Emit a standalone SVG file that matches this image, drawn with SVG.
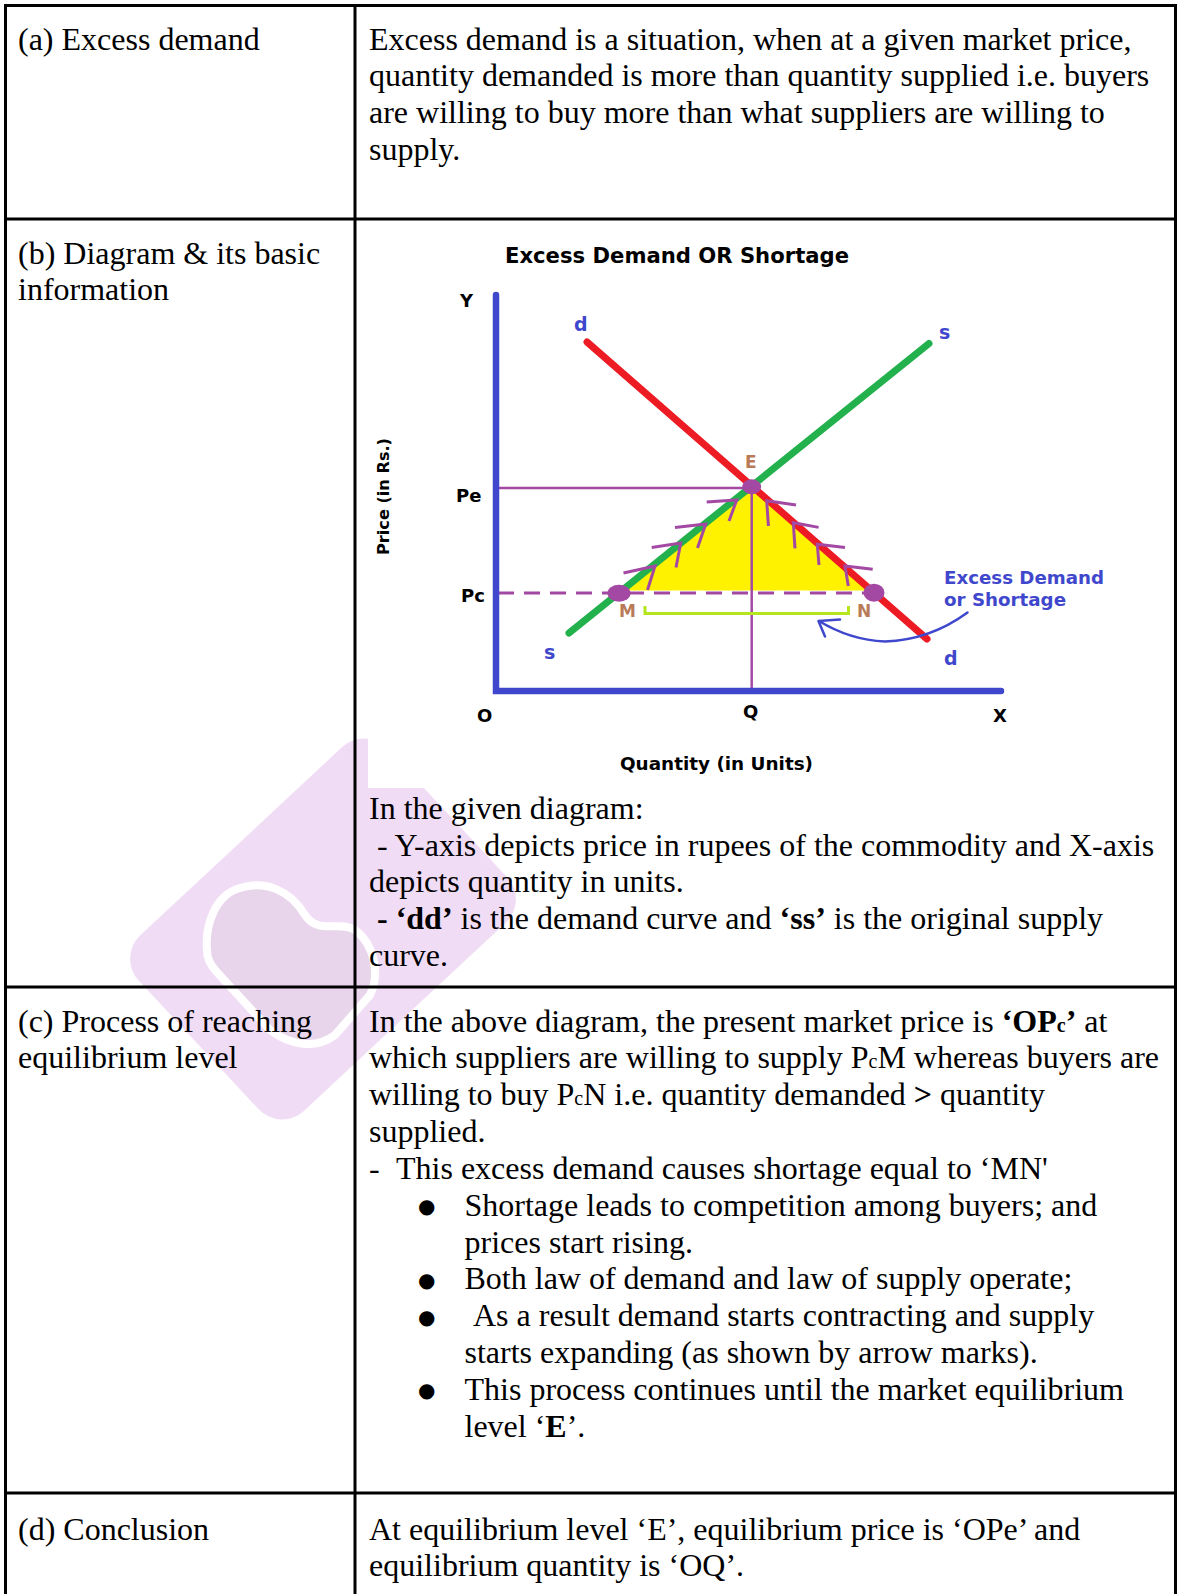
<svg xmlns="http://www.w3.org/2000/svg" width="1180" height="1594" viewBox="0 0 1180 1594">
<style>
.t{font-family:"Liberation Serif","Times New Roman",serif;font-size:32px;fill:#000}
.b{font-weight:bold}
.sm{font-size:20px}
.bul{font-family:"DejaVu Sans","Liberation Sans",sans-serif;font-size:20px;fill:#000}
.c{font-family:"DejaVu Sans",Verdana,sans-serif;font-weight:bold}
.lbl{font-size:18px;fill:#000}
.blue{fill:#3F48CC}
.tan{fill:#B97A57;font-size:17px}
.grid{stroke:#000;stroke-width:3;fill:none}
.pur{stroke:#A349A4;fill:none;stroke-width:2.5}
.mark{stroke:#A349A4;fill:none;stroke-width:3;stroke-linejoin:miter}
.dot{fill:#A349A4}
</style>
<rect width="1180" height="1594" fill="#fff"/>

<g id="watermark">
  <rect x="-170" y="-120" width="340" height="240" rx="32" fill="#F1DCF5" transform="translate(323 929) rotate(-43)"/>
  <path d="M207,950 C205,925 215,895 240,888 C265,880 290,890 305,915 C318,935 340,920 355,930 C375,945 380,975 370,995 L335,1035 C315,1050 290,1045 270,1030 L215,970 C208,962 207,956 207,950 Z" fill="#E8D5EC" stroke="#FFFFFF" stroke-width="8" stroke-linejoin="round"/>
</g>

<rect id="chart-bg" x="368" y="222" width="800" height="566" fill="#fff"/>

<g id="table-grid" class="grid">
  <line x1="4" y1="5.5" x2="1177" y2="5.5"/>
  <line x1="5.5" y1="4" x2="5.5" y2="1600"/>
  <line x1="1175.5" y1="4" x2="1175.5" y2="1600"/>
  <line x1="355" y1="4" x2="355" y2="1600"/>
  <line x1="4" y1="219" x2="1177" y2="219"/>
  <line x1="4" y1="987" x2="1177" y2="987"/>
  <line x1="4" y1="1493" x2="1177" y2="1493"/>
</g>

<g id="row-a">
  <text class="t" x="18" y="49.5">(a) Excess demand</text>
  <text class="t" x="369" y="49.5">Excess demand is a situation, when at a given market price,</text>
  <text class="t" x="369" y="86.4">quantity demanded is more than quantity supplied i.e. buyers</text>
  <text class="t" x="369" y="123.2">are willing to buy more than what suppliers are willing to</text>
  <text class="t" x="369" y="160">supply.</text>
</g>

<g id="row-b">
  <text class="t" x="18" y="264">(b) Diagram &amp; its basic</text>
  <text class="t" x="18" y="300">information</text>
  <text class="t" x="369" y="819">In the given diagram:</text>
  <text class="t" x="377" y="855.5">- Y-axis depicts price in rupees of the commodity and X-axis</text>
  <text class="t" x="369" y="892.3">depicts quantity in units.</text>
  <text class="t" x="377" y="929.2"><tspan class="b">- ‘dd’</tspan> is the demand curve and <tspan class="b">‘ss’</tspan> is the original supply</text>
  <text class="t" x="369" y="966">curve.</text>
</g>

<g id="chart">
  <text id="chart-title" class="c" x="505" y="263" font-size="21" textLength="344" lengthAdjust="spacingAndGlyphs">Excess Demand OR Shortage</text>
  <polygon id="excess-area" points="751.7,487 624,590.5 870,590.5" fill="#FFF200"/>
  <line id="pc-line" x1="498" y1="593" x2="874" y2="593" stroke="#A349A4" stroke-width="3" stroke-dasharray="16 10"/>
  <line id="pe-line" class="pur" x1="497" y1="488" x2="751.7" y2="488"/>
  <line id="q-line" class="pur" x1="751.7" y1="487" x2="751.7" y2="690"/>
  <line id="supply" x1="569" y1="633" x2="929" y2="343.5" stroke="#22B14C" stroke-width="7" stroke-linecap="round"/>
  <line id="demand" x1="587" y1="342" x2="927" y2="639" stroke="#ED1C24" stroke-width="7" stroke-linecap="round"/>
  <g id="supply-marks" class="mark">
    <polyline points="623.5,573 655,566 647.5,590"/>
    <polyline points="651.7,547.5 680.7,543 676,567.5"/>
    <polyline points="675,527.5 705.7,524 697.5,548"/>
    <polyline points="706.7,502 736.7,500 729,521"/>
  </g>
  <g id="demand-marks" class="mark">
    <polyline points="796,505 766.7,500.7 768.4,526"/>
    <polyline points="818.6,527.4 793.3,522.7 795,548.4"/>
    <polyline points="845,547.6 817.3,544.3 819,565"/>
    <polyline points="872.7,569.3 845,566 848.3,586"/>
  </g>
  <ellipse id="dot-e" class="dot" cx="751.7" cy="486.7" rx="9.5" ry="7.5"/>
  <ellipse id="dot-m" class="dot" cx="619" cy="593.3" rx="11.5" ry="8.5"/>
  <ellipse id="dot-n" class="dot" cx="874" cy="592.7" rx="10.5" ry="9"/>
  <polyline id="mn-bracket" points="645,606 645,613.5 848.5,613.5 848.5,606" fill="none" stroke="#B5E61D" stroke-width="3"/>
  <g id="shortage-arrow" fill="none" stroke="#3F48CC" stroke-width="2.5" stroke-linecap="round" stroke-linejoin="round">
    <path d="M967.5,612.5 Q930,640 885,641.5 Q850,640 819,621"/>
    <polyline points="840,619.5 818.5,621 825,636.5"/>
  </g>
  <polyline id="axes" points="496,295 496,691 1001,691" fill="none" stroke="#3F48CC" stroke-width="6.5" stroke-linecap="round" stroke-linejoin="miter"/>
  <g id="axis-labels" class="c lbl">
    <text x="460" y="306.5">Y</text>
    <text x="456" y="502">Pe</text>
    <text x="461" y="602">Pc</text>
    <text x="477" y="722">O</text>
    <text x="743" y="718">Q</text>
    <text x="993" y="722">X</text>
  </g>
  <g id="point-labels" class="c tan">
    <text x="745" y="468">E</text>
    <text x="619" y="617">M</text>
    <text x="857" y="617">N</text>
  </g>
  <g id="curve-labels" class="c blue" font-size="19">
    <text x="574" y="331">d</text>
    <text x="939" y="339">s</text>
    <text x="544" y="659">s</text>
    <text x="944" y="665">d</text>
  </g>
  <g id="shortage-label" class="c blue" font-size="18">
    <text x="944" y="584" textLength="160" lengthAdjust="spacingAndGlyphs">Excess Demand</text>
    <text x="944" y="606" textLength="122" lengthAdjust="spacingAndGlyphs">or Shortage</text>
  </g>
  <text id="y-title" class="c" font-size="16" x="389" y="555" transform="rotate(-90 389 555)" textLength="117" lengthAdjust="spacingAndGlyphs">Price (in Rs.)</text>
  <text id="x-title" class="c" font-size="17" x="620" y="770" textLength="193" lengthAdjust="spacingAndGlyphs">Quantity (in Units)</text>
</g>

<g id="row-c">
  <text class="t" x="18" y="1031.5">(c) Process of reaching</text>
  <text class="t" x="18" y="1068.3">equilibrium level</text>
  <text class="t" x="369" y="1031.5">In the above diagram, the present market price is <tspan class="b">‘OP</tspan><tspan class="b sm">c</tspan><tspan class="b">’</tspan> at</text>
  <text class="t" x="369" y="1068.3">which suppliers are willing to supply P<tspan class="sm">c</tspan>M whereas buyers are</text>
  <text class="t" x="369" y="1105.2">willing to buy P<tspan class="sm">c</tspan>N i.e. quantity demanded <tspan class="b">&gt;</tspan> quantity</text>
  <text class="t" x="369" y="1142">supplied.</text>
  <text class="t" x="369" y="1178.8">-</text>
  <text class="t" x="396" y="1178.8">This excess demand causes shortage equal to ‘MN'</text>
  <text class="bul" x="418" y="1213">●</text>
  <text class="t" x="464.5" y="1215.6">Shortage leads to competition among buyers; and</text>
  <text class="t" x="464.5" y="1252.5">prices start rising.</text>
  <text class="bul" x="418" y="1286.7">●</text>
  <text class="t" x="464.5" y="1289.3">Both law of demand and law of supply operate;</text>
  <text class="bul" x="418" y="1323.5">●</text>
  <text class="t" x="473" y="1326.1">As a result demand starts contracting and supply</text>
  <text class="t" x="464.5" y="1363">starts expanding (as shown by arrow marks).</text>
  <text class="bul" x="418" y="1397.2">●</text>
  <text class="t" x="464.5" y="1399.8">This process continues until the market equilibrium</text>
  <text class="t" x="464.5" y="1436.6">level ‘<tspan class="b">E</tspan>’.</text>
</g>

<g id="row-d">
  <text class="t" x="18" y="1539.5">(d) Conclusion</text>
  <text class="t" x="369" y="1539.5">At equilibrium level ‘E’, equilibrium price is ‘OPe’ and</text>
  <text class="t" x="369" y="1576.3">equilibrium quantity is ‘OQ’.</text>
</g>
</svg>
